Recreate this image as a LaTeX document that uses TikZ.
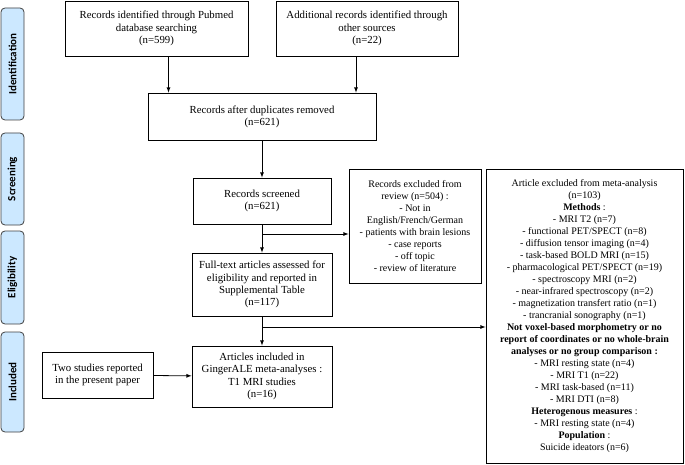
\documentclass[tikz,border=0pt]{standalone}
\usepackage{fontspec}
\setmainfont{Liberation Serif}
\newfontfamily\sidefont{Carlito}
\usetikzlibrary{arrows}

\begin{document}
\begin{tikzpicture}[x=1pt,y=-1pt,
    box/.style={draw,thick,align=center,inner sep=2pt,font=\fontsize{10.8}{12.3}\selectfont},
    smallbox/.style={box,font=\fontsize{10}{12}\selectfont},
    side/.style={draw=black!75,thick,fill=blue!45!cyan!20,rounded corners=4pt,rotate=90,font=\sidefont\bfseries\fontsize{11}{13}\selectfont},
    arr/.style={thick,-latex}]
                \useasboundingbox (0,0) rectangle (685,465);
                \node[side,minimum width=112,minimum height=23] (sident) at (12.5,64) {Identification};
                \node[side,minimum width=92,minimum height=23] (sscreen) at (12.5,179) {Screening};
                \node[side,minimum width=93,minimum height=23] (selig) at (12.5,277.5) {Eligibility};
                \node[side,minimum width=100,minimum height=23] (sincl) at (12.5,382) {Included};
                \node[box,minimum width=183,minimum height=55] (pubmed) at (156.5,28.5) {Records identified through Pubmed\\database searching\\(n=599)};
                \node[box,minimum width=182,minimum height=55] (other) at (367,28.5) {Additional records identified through\\other sources\\(n=22)};
                \node[box,minimum width=228,minimum height=47] (dupl) at (262,116.5) {Records after duplicates removed\\(n=621)};
                \node[box,minimum width=138,minimum height=46] (screened) at (262,201) {Records screened\\(n=621)};
                \node[smallbox,minimum width=132,minimum height=114] (excl) at (415,226) {Records excluded from\\review (n=504) :\\- Not in\\English/French/German\\- patients with brain lesions\\- case reports\\- off topic\\- review of literature};
                \node[smallbox,minimum width=197,minimum height=294] (meta) at (584.5,316) {Article excluded from meta-analysis\\(n=103)\\\textbf{Methods} :\\- MRI T2 (n=7)\\- functional PET/SPECT (n=8)\\- diffusion tensor imaging (n=4)\\- task-based BOLD MRI (n=15)\\- pharmacological PET/SPECT (n=19)\\- spectroscopy MRI (n=2)\\- near-infrared spectroscopy (n=2)\\- magnetization transfert ratio (n=1)\\- trancranial sonography (n=1)\\\textbf{Not voxel-based morphometry or no}\\\textbf{report of coordinates or no whole-brain}\\\textbf{analyses or no group comparison :}\\- MRI resting state (n=4)\\- MRI T1 (n=22)\\- MRI task-based (n=11)\\- MRI DTI (n=8)\\\textbf{Heterogenous measures} :\\- MRI resting state (n=4)\\\textbf{Population} :\\Suicide ideators (n=6)};
                \node[box,minimum width=140,minimum height=63] (fulltext) at (262,284.5) {Full-text articles assessed for\\eligibility and reported in\\Supplemental Table\\(n=117)};
                \node[box,minimum width=140,minimum height=61] (incl) at (262,376.5) {Articles included in\\GingerALE meta-analyses :\\T1 MRI studies\\(n=16)};
                \node[box,minimum width=111,minimum height=46] (two) at (97.5,375) {Two studies reported\\in the present paper};
                \coordinate (b1) at (262,234);
                \coordinate (b2) at (262,327);
                \draw[arr] ([xshift=12]pubmed.south) -- ([xshift=12]pubmed.south |- dupl.north);
                \draw[arr] ([xshift=-11]other.south) -- ([xshift=-11]other.south |- dupl.north);
                \draw[arr] (dupl) -- (screened);
                \draw[arr] (screened) -- (fulltext);
                \draw[arr] (b1) -- (excl.west |- b1);
                \draw[arr] (fulltext) -- (incl);
                \draw[arr] (b2) -- (meta.west |- b2);
                \draw[arr] (two) -- (incl);
            \end{tikzpicture}
\end{document}
